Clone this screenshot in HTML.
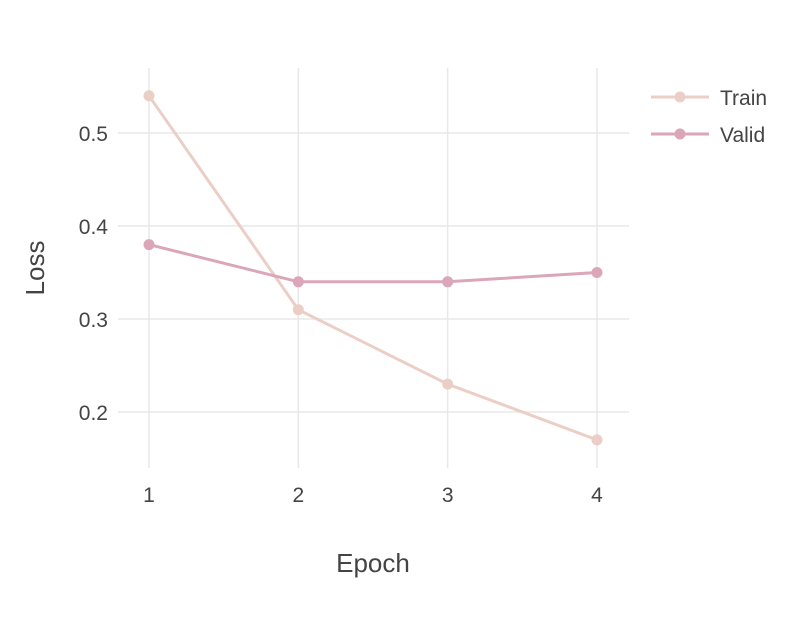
<!DOCTYPE html>
<html><head><meta charset="utf-8"><style>
html,body{margin:0;padding:0;background:#fff;}
svg{display:block;font-family:"Liberation Sans",sans-serif;}
</style></head><body>
<svg id="chart" width="786" height="626"></svg>
<script>
const epochs=[1,2,3,4];
const trainLoss=[0.54,0.31,0.23,0.17];
const validLoss=[0.38,0.34,0.34,0.35];
const yTicks=[0.2,0.3,0.4,0.5];
const yTickLabels=["0.2","0.3","0.4","0.5"];
const xTickLabels=["1","2","3","4"];
const NS="http://www.w3.org/2000/svg";
const svg=document.getElementById('chart');
const X=v=>149+(v-1)*149.33;
const Y=v=>133+(0.5-v)*930;
function mk(t,a,p){const e=document.createElementNS(NS,t);for(const k in a)e.setAttribute(k,a[k]);(p||svg).appendChild(e);return e;}
const grid=mk('g',{});


epochs.forEach((v,i)=>{
  const l=mk('line',{x1:X(v),x2:X(v),y1:68,y2:468,stroke:'#e8e8e8','stroke-width':1.5},grid);
  
  
  const t=mk('text',{x:X(v),y:502,'text-anchor':'middle','font-size':21,fill:'#444'});
  t.textContent=xTickLabels[i];
  
  
});
yTicks.forEach((v,i)=>{
  const l=mk('line',{x1:118,x2:629,y1:Y(v),y2:Y(v),stroke:'#e8e8e8','stroke-width':1.5},grid);
  
  
  const t=mk('text',{x:108,y:Y(v)+8,'text-anchor':'end','font-size':21,fill:'#444'});
  t.textContent=yTickLabels[i];
  
  
});
function series(vals,color,name){
  const g=mk('g',{});
  
  
  const pl=mk('polyline',{points:vals.map((v,i)=>X(epochs[i])+','+Y(v)).join(' '),fill:'none',stroke:color,'stroke-width':3},g);
  
  
  vals.forEach((v,i)=>{
    const c=mk('circle',{cx:X(epochs[i]),cy:Y(v),r:5.5,fill:color},g);
    
    
  });
}
series(trainLoss,'#ebcfc6','train');
series(validLoss,'#dba6b8','valid');
function legend(y,color,label,name){
  const g=mk('g',{});
  
  
  mk('line',{x1:651,x2:709,y1:y,y2:y,stroke:color,'stroke-width':3},g);
  mk('circle',{cx:680,cy:y,r:5.5,fill:color},g);
  const t=mk('text',{x:720,y:y+8,'font-size':21,fill:'#444'},g);
  t.textContent=label;
}
legend(97,'#ebcfc6','Train','train');
legend(134,'#dba6b8','Valid','valid');
const xt=mk('text',{x:373,y:572,'text-anchor':'middle','font-size':26,fill:'#444'});
xt.textContent='Epoch';


const yt=mk('text',{x:0,y:0,'text-anchor':'middle','font-size':26,fill:'#444',transform:'translate(44,268) rotate(-90)'});
yt.textContent='Loss';


</script>
</body></html>
